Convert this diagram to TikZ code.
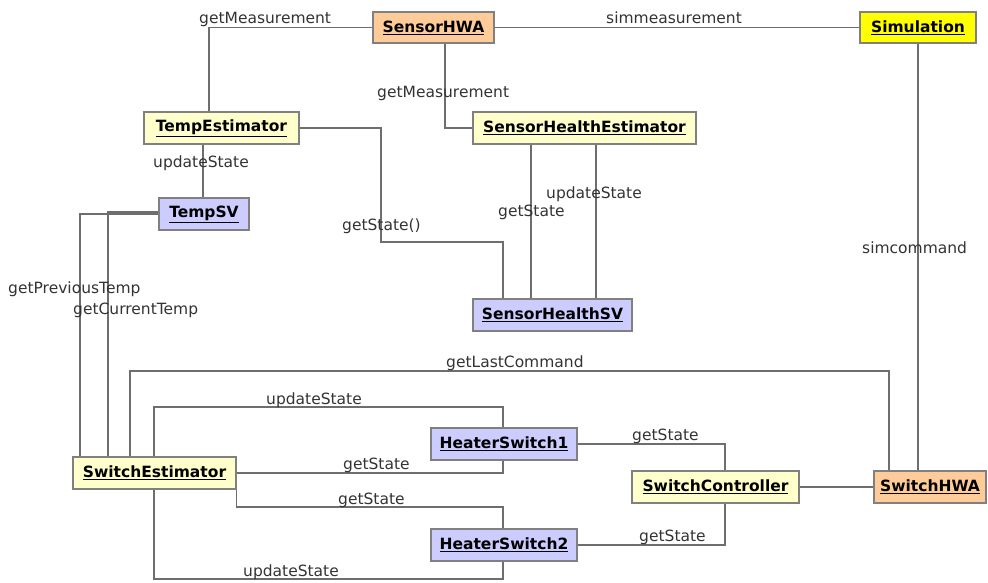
\documentclass[tikz,border=0pt]{standalone}
\usepackage{fontspec}
\setmainfont{DejaVu Sans}
\usepackage{tikz}

\definecolor{estfill}{HTML}{FFFFCC}
\definecolor{svfill}{HTML}{CCCCFF}
\definecolor{hwafill}{HTML}{FFCC99}
\definecolor{simfill}{HTML}{FFFF00}
\definecolor{boxline}{HTML}{808080}
\definecolor{wire}{HTML}{6E6E6E}

\begin{document}
\begin{tikzpicture}[x=1pt,y=-1pt,
    obj/.style={draw=boxline,line width=1.2pt,minimum height=32pt,inner sep=0pt,font=\fontsize{15.5}{18}\selectfont\bfseries},
    est/.style={obj,fill=estfill},
    sv/.style={obj,fill=svfill},
    hwa/.style={obj,fill=hwafill},
    sim/.style={obj,fill=simfill},
    lbl/.style={anchor=base west,inner sep=0pt,text=black!80,font=\fontsize{15.5}{18}\selectfont},
    wire/.style={draw=wire,line width=1.3pt}]
    \useasboundingbox (0,0) rectangle (988,582);

    \node[hwa,minimum width=121pt,minimum height=31pt] (sensorhwa) at (433.5,27.5) {\underline{SensorHWA}};
    \node[sim,minimum width=116pt,minimum height=31pt] (simulation) at (918,27.5) {\underline{Simulation}};
    \node[est,minimum width=155pt] (tempest) at (221.5,128) {\underline{TempEstimator}};
    \node[est,minimum width=223pt] (shest) at (584.5,128) {\underline{SensorHealthEstimator}};
    \node[sv,minimum width=90pt] (tempsv) at (204,214) {\underline{TempSV}};
    \node[sv,minimum width=159pt] (shsv) at (552.5,315) {\underline{SensorHealthSV}};
    \node[est,minimum width=163pt] (swest) at (154.5,473) {\underline{SwitchEstimator}};
    \node[sv,minimum width=146pt] (hs1) at (504,444) {\underline{HeaterSwitch1}};
    \node[sv,minimum width=146pt] (hs2) at (504,545) {\underline{HeaterSwitch2}};
    \node[est,minimum width=167pt] (swctrl) at (715.5,487) {\underline{SwitchController}};
    \node[hwa,minimum width=112pt] (swhwa) at (930,487) {\underline{SwitchHWA}};

    \draw[wire] (sensorhwa.west) -| (209,0 |- tempest.north);
    \draw[wire] (sensorhwa) -- (simulation);
    \draw[wire] (445,0 |- sensorhwa.south) |- (shest.west);
    \draw[wire] (simulation.south) -- (simulation.south |- swhwa.north);
    \draw[wire] (203,0 |- tempest.south) -- (203,0 |- tempsv.north);
    \draw[wire] (tempest.east) -| (381,242) -| (503,0 |- shsv.north);
    \draw[wire] (531,0 |- shest.south) -- (531,0 |- shsv.north);
    \draw[wire] (596,0 |- shest.south) -- (596,0 |- shsv.north);
    \draw[wire] (tempsv.west) -| (80,0 |- swest.north);
    \draw[wire] ([yshift=2pt]tempsv.west) -| (108,0 |- swest.north);
    \draw[wire] (130,0 |- swest.north) |- (889,371) -- (889,0 |- swhwa.north);
    \draw[wire] (154,0 |- swest.north) |- (503,407) -- (503,0 |- hs1.north);
    \draw[wire] (swest.east) -| (503,0 |- hs1.south);
    \draw[wire] (swest.south east) |- (503,507) -- (503,0 |- hs2.north);
    \draw[wire] (154,0 |- swest.south) |- (503,579) -- (503,0 |- hs2.south);
    \draw[wire] (hs1.east) -| (725,0 |- swctrl.north);
    \draw[wire] (hs2.east) -| (725,0 |- swctrl.south);
    \draw[wire] (swctrl) -- (swhwa);

    \node[lbl] (l1) at (199,23) {getMeasurement};
    \node[lbl] (l2) at (606,23) {simmeasurement};
    \node[lbl] (l3) at (377,97) {getMeasurement};
    \node[lbl] (l4) at (862,253) {simcommand};
    \node[lbl] (l5) at (153,167) {updateState};
    \node[lbl] (l6) at (342,230) {getState()};
    \node[lbl] (l7) at (546,198) {updateState};
    \node[lbl] (l8) at (498,216) {getState};
    \node[lbl] (l9) at (8,293) {getPreviousTemp};
    \node[lbl] (l10) at (73,314) {getCurrentTemp};
    \node[lbl] (l11) at (446,367) {getLastCommand};
    \node[lbl] (l12) at (266,404) {updateState};
    \node[lbl] (l13) at (343,469) {getState};
    \node[lbl] (l14) at (338,504) {getState};
    \node[lbl] (l15) at (243,576) {updateState};
    \node[lbl] (l16) at (632,440) {getState};
    \node[lbl] (l17) at (639,541) {getState};
\end{tikzpicture}
\end{document}
